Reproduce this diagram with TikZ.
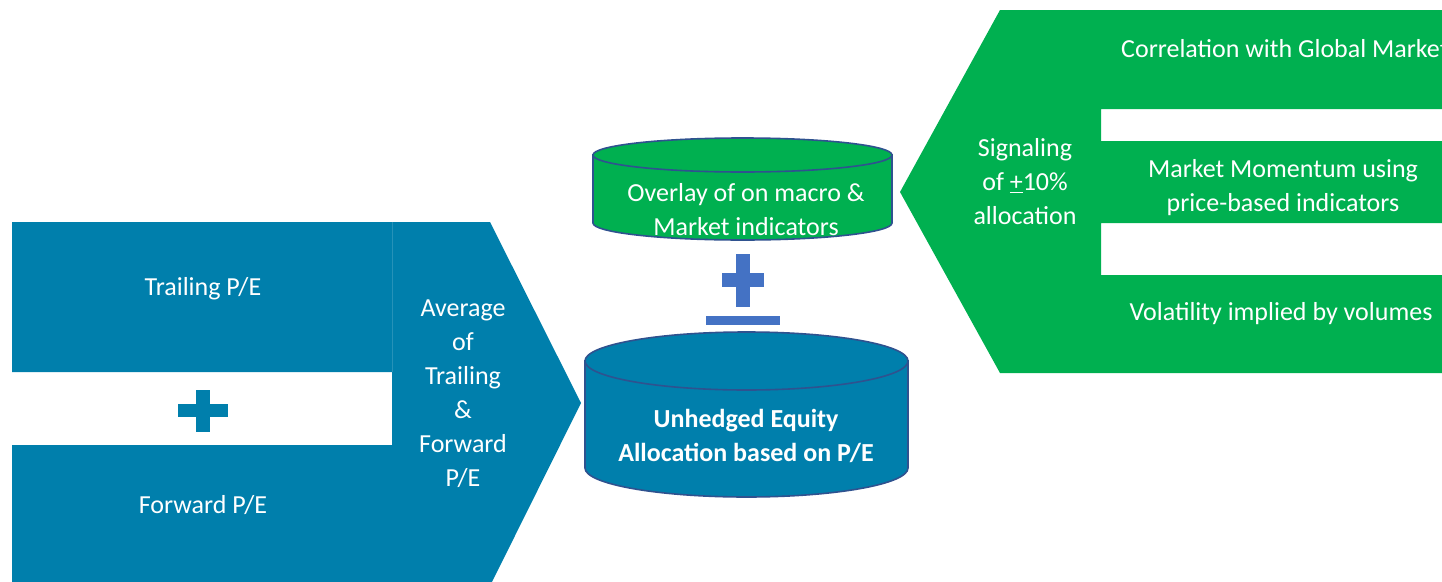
\documentclass[tikz,border=0pt]{standalone}
\usepackage{fontspec}
\setmainfont{Carlito}
\definecolor{peblue}{RGB}{0,127,172}
\definecolor{sigreen}{RGB}{0,176,80}
\definecolor{opblue}{RGB}{68,114,196}
\definecolor{rimblue}{RGB}{47,82,143}
\tikzset{
  lbl/.style={text=white, align=center, inner sep=0pt, font=\fontsize{26}{34}\selectfont},
  rim/.style={draw=rimblue, line width=1.6pt},
}

\begin{document}
\begin{tikzpicture}[x=1pt, y=-1pt]
\useasboundingbox (0,0) rectangle (1442,581);
%P/E block
\fill [peblue] (12,222) -- (490,222) -- (581,403) -- (490,586) -- (12,586) -- (12,445)
  -- (392,445) -- (392,372) -- (12,372) -- cycle;
\draw [peblue!85!white, line width=0.6pt] (392,222) -- (392,372);
\fill [peblue] (196,390) rectangle (210,432);
\fill [peblue] (178,404) rectangle (228,417);
%
\node [lbl] (trailing) at (203,289) {Trailing P/E};
\node [lbl] (forward) at (203,505) {Forward P/E};
\node [lbl] (average) at (463,394) {Average\\of\\Trailing\\\&\\Forward\\P/E};
%
%signal block
\fill [sigreen] (1000,10) -- (1450,10) -- (1450,109) -- (1101,109) -- (1101,141) -- (1450,141)
  -- (1450,223) -- (1101,223) -- (1101,275) -- (1450,275) -- (1450,373) -- (1000,373)
  -- (900,192) -- cycle;
%
\node [lbl] (signal) at (1025,182) {Signaling\\of \underline{+}10\%\\allocation};
\node [lbl, anchor=west] (correl) at (1121,49) {Correlation with Global Market};
\node [lbl] (momentum) at (1283,188) {Market Momentum using\\price-based indicators};
\node [lbl] (volatility) at (1281,314) {Volatility implied by volumes};
%
%overlay drum
\filldraw [rim, fill=sigreen] (593,155) -- (593,223) arc [start angle=180, end angle=0, x radius=149.5, y radius=17] -- (892,155) -- cycle;
\filldraw [rim, fill=sigreen] (742.5,155) ellipse [x radius=149.5, y radius=17];
\node [lbl] (overlay) at (746,210) {Overlay of on macro \&\\Market indicators};
%
%plus / minus
\fill [opblue] (736,254) rectangle (750,307);
\fill [opblue] (722,273) rectangle (764,287);
\fill [opblue] (706,316) rectangle (780,325);
%
%equity drum
\filldraw [rim, fill=peblue] (585,361) -- (585,468) arc [start angle=180, end angle=0, x radius=161.5, y radius=29] -- (908,361) -- cycle;
\filldraw [rim, fill=peblue] (746.5,361) ellipse [x radius=161.5, y radius=29];
\node [lbl, font=\fontsize{26}{34}\selectfont\bfseries] (unhedged) at (746,436) {Unhedged Equity\\Allocation based on P/E};
\end{tikzpicture}
\end{document}
